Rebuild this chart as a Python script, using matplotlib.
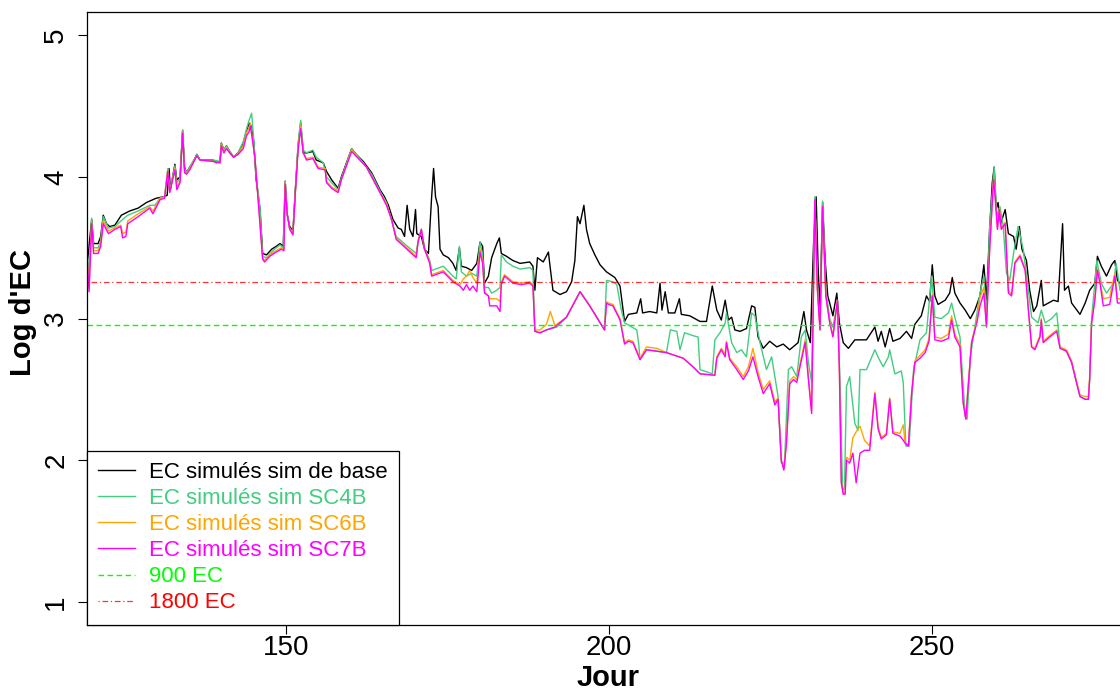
"""
EC simulées (log) par jour pour quatre scénarios, avec seuils 900 et 1800 EC.
"""
import matplotlib
matplotlib.use("Agg")
import matplotlib.pyplot as plt

plt.rcParams["font.family"] = ["Liberation Sans", "DejaVu Sans"]

# --- données (jour, log EC) ---
base_days = [
    119.0, 119.2, 119.8, 120.1, 120.8, 121.2, 121.6, 122.1, 122.6, 123.4, 124.4, 125.7,
    127.0, 128.3, 129.8, 130.9, 131.5, 131.8, 132.0, 132.7, 133.0, 133.5, 133.9, 134.2,
    134.5, 135.0, 135.5, 136.1, 136.6, 138.6, 139.1, 139.7, 139.9, 140.3, 140.7, 141.2,
    141.8, 142.5, 143.3, 143.8, 144.2, 144.5, 144.9, 145.3, 145.9, 146.3, 146.9, 147.7,
    148.4, 149.0, 149.5, 149.8, 150.1, 150.5, 151.0, 151.4, 151.8, 152.2, 152.6, 153.1,
    154.1, 154.6, 155.7, 156.2, 157.0, 158.0, 158.5, 160.1, 160.8, 161.9, 163.2, 164.5,
    165.2, 165.8, 166.5, 167.3, 167.8, 168.3, 168.7, 169.1, 169.6, 170.0, 170.2, 170.9,
    171.4, 172.0, 172.5, 172.8, 173.1, 173.5, 173.8, 174.3, 175.1, 175.8, 176.3, 176.8,
    177.1, 177.9, 178.7, 179.5, 180.0, 180.4, 180.7, 181.3, 181.8, 182.6, 183.0, 183.3,
    184.1, 185.1, 186.2, 187.7, 188.2, 188.5, 188.9, 189.8, 190.6, 190.8, 191.3, 192.4,
    193.4, 194.2, 194.7, 195.1, 195.5, 196.1, 196.5, 197.0, 197.8, 198.6, 199.6, 200.9,
    201.7, 202.4, 203.0, 204.3, 204.9, 205.2, 206.3, 207.4, 207.9, 208.2, 208.7, 209.2,
    210.2, 210.9, 211.2, 212.5, 214.1, 215.1, 216.0, 216.7, 217.4, 218.0, 218.5, 219.0,
    219.5, 220.3, 221.3, 222.1, 222.6, 223.1, 223.9, 224.9, 226.0, 227.0, 228.0, 229.3,
    230.2, 230.6, 231.2, 231.7, 232.1, 232.4, 232.7, 233.1, 233.5, 233.9, 234.2, 234.7,
    235.3, 235.7, 236.3, 237.1, 238.1, 239.9, 241.2, 241.7, 242.2, 242.8, 243.5, 244.0,
    245.1, 246.1, 246.9, 247.4, 248.4, 249.2, 249.7, 250.1, 250.5, 251.0, 252.1, 252.8,
    253.2, 253.6, 254.4, 255.2, 256.0, 256.7, 257.5, 258.1, 258.5, 259.0, 259.4, 259.7,
    260.0, 260.3, 260.7, 261.4, 261.9, 262.7, 263.1, 263.6, 264.0, 264.7, 265.2, 265.8,
    266.3, 267.0, 267.3, 268.1, 268.9, 269.6, 270.3, 270.6, 271.2, 271.7, 272.5, 273.0,
    273.8, 274.5, 275.3, 275.7, 276.3, 277.1, 277.9, 278.4, 278.8, 279.2,
]
base_ec = [
    3.56, 3.42, 3.70, 3.53, 3.53, 3.58, 3.73, 3.67, 3.65, 3.66, 3.73, 3.76,
    3.78, 3.82, 3.85, 3.86, 3.87, 4.06, 3.91, 4.09, 3.98, 4.00, 4.33, 4.07,
    4.03, 4.07, 4.10, 4.16, 4.12, 4.12, 4.10, 4.11, 4.24, 4.19, 4.22, 4.18,
    4.14, 4.17, 4.24, 4.32, 4.38, 4.36, 4.26, 3.98, 3.77, 3.46, 3.45, 3.49,
    3.51, 3.53, 3.51, 3.97, 3.74, 3.65, 3.62, 3.93, 4.22, 4.38, 4.17, 4.17,
    4.18, 4.12, 4.10, 4.04, 3.98, 3.92, 4.00, 4.20, 4.16, 4.11, 4.03, 3.91,
    3.86, 3.80, 3.70, 3.64, 3.63, 3.58, 3.80, 3.63, 3.58, 3.77, 3.60, 3.58,
    3.49, 3.46, 3.86, 4.06, 3.86, 3.79, 3.49, 3.45, 3.43, 3.39, 3.34, 3.50,
    3.37, 3.36, 3.34, 3.39, 3.54, 3.51, 3.25, 3.30, 3.43, 3.53, 3.57, 3.46,
    3.44, 3.41, 3.39, 3.40, 3.37, 3.20, 3.43, 3.40, 3.47, 3.39, 3.20, 3.17,
    3.19, 3.26, 3.41, 3.72, 3.67, 3.80, 3.63, 3.53, 3.45, 3.38, 3.33, 3.29,
    3.23, 2.98, 3.03, 3.04, 3.14, 3.04, 3.05, 3.04, 3.25, 3.06, 3.19, 3.04,
    3.04, 3.14, 3.03, 3.02, 2.98, 2.98, 3.23, 3.06, 2.99, 3.13, 2.99, 3.01,
    2.92, 2.91, 2.93, 3.09, 3.08, 2.87, 2.79, 2.84, 2.80, 2.82, 2.78, 2.83,
    3.05, 2.92, 2.83, 3.53, 3.86, 3.37, 3.06, 3.82, 3.41, 3.16, 3.11, 3.02,
    3.18, 2.97, 2.83, 2.79, 2.85, 2.85, 2.94, 2.84, 2.91, 2.80, 2.93, 2.84,
    2.86, 2.91, 2.86, 2.96, 3.02, 3.16, 3.12, 3.38, 3.16, 3.10, 3.13, 3.18,
    3.29, 3.18, 3.11, 3.06, 3.00, 3.06, 3.16, 3.38, 3.13, 3.64, 3.96, 4.07,
    3.77, 3.82, 3.67, 3.77, 3.60, 3.58, 3.49, 3.65, 3.49, 3.41, 3.20, 3.05,
    3.09, 3.27, 3.09, 3.11, 3.13, 3.12, 3.67, 3.20, 3.23, 3.11, 3.06, 3.03,
    3.11, 3.20, 3.25, 3.44, 3.37, 3.30, 3.38, 3.41, 3.27, 3.25,
]

sc4b_days = [
    119.0, 119.4, 119.8, 120.1, 120.8, 121.2, 121.6, 122.4, 123.4, 124.6, 125.4, 127.0,
    128.8, 129.6, 130.4, 131.1, 131.6, 131.9, 132.7, 133.0, 133.5, 133.9, 134.2, 134.5,
    135.0, 136.1, 136.6, 138.6, 139.7, 139.9, 140.3, 140.7, 141.2, 141.8, 142.5, 143.3,
    143.8, 144.2, 144.6, 144.9, 145.3, 145.9, 146.3, 146.9, 147.7, 148.4, 149.0, 149.5,
    149.8, 150.1, 150.5, 151.0, 151.4, 151.8, 152.2, 152.6, 153.1, 154.1, 154.6, 155.7,
    156.2, 157.0, 158.0, 158.5, 160.1, 160.8, 161.9, 163.2, 164.5, 165.5, 166.3, 167.0,
    168.5, 170.1, 170.4, 170.9, 171.4, 172.2, 172.5, 174.3, 175.8, 176.3, 176.8, 177.1,
    177.9, 178.7, 179.5, 180.0, 180.4, 180.7, 181.3, 181.8, 182.6, 183.1, 183.3, 184.1,
    185.1, 186.2, 187.7, 188.2, 188.5, 189.3, 190.3, 191.9, 193.4, 195.5, 197.0, 199.3,
    199.6, 200.6, 201.2, 201.9, 202.4, 203.2, 204.3, 204.6, 204.8, 205.8, 207.4, 208.9,
    209.5, 210.5, 211.0, 211.7, 213.0, 213.8, 214.1, 216.0, 216.4, 217.2, 218.0, 218.2,
    219.0, 219.8, 220.5, 221.3, 222.1, 222.6, 223.4, 224.4, 225.2, 226.2, 226.7, 227.2,
    227.8, 228.3, 229.1, 229.8, 230.4, 230.9, 231.4, 231.9, 232.3, 232.7, 233.1, 233.6,
    234.2, 234.7, 235.4, 235.8, 236.2, 236.5, 236.8, 237.3, 238.1, 238.6, 238.9, 239.9,
    241.2, 241.9, 242.5, 243.3, 243.5, 244.3, 245.3, 245.6, 246.0, 246.5, 247.2, 248.2,
    249.2, 250.0, 250.5, 251.5, 252.6, 253.1, 253.6, 254.4, 255.2, 255.5, 256.0, 256.7,
    257.5, 258.1, 258.5, 259.0, 259.7, 260.1, 260.6, 261.1, 261.6, 262.1, 262.7, 263.4,
    264.2, 265.0, 265.5, 266.5, 267.0, 267.6, 268.6, 269.4, 269.9, 270.9, 271.7, 272.5,
    273.0, 273.8, 274.3, 274.5, 274.8, 275.6, 276.3, 277.1, 278.2, 278.6, 279.2,
]
sc4b_ec = [
    3.52, 3.32, 3.71, 3.50, 3.50, 3.55, 3.72, 3.64, 3.65, 3.70, 3.73, 3.76,
    3.80, 3.80, 3.85, 3.86, 4.06, 3.90, 4.08, 3.96, 3.99, 4.33, 4.06, 4.03,
    4.07, 4.16, 4.12, 4.12, 4.11, 4.24, 4.19, 4.22, 4.18, 4.14, 4.17, 4.25,
    4.34, 4.40, 4.45, 4.28, 4.00, 3.78, 3.44, 3.43, 3.47, 3.50, 3.52, 3.50,
    3.97, 3.74, 3.64, 3.61, 3.93, 4.24, 4.40, 4.19, 4.17, 4.19, 4.14, 4.10,
    4.00, 3.96, 3.91, 3.99, 4.20, 4.16, 4.10, 4.02, 3.90, 3.82, 3.69, 3.58,
    3.52, 3.46, 3.55, 3.63, 3.50, 3.41, 3.34, 3.37, 3.30, 3.28, 3.51, 3.33,
    3.30, 3.32, 3.30, 3.54, 3.45, 3.22, 3.22, 3.18, 3.20, 3.22, 3.45, 3.40,
    3.37, 3.35, 3.36, 3.34, 2.91, 2.90, 2.92, 2.94, 3.01, 3.19, 3.09, 2.92,
    3.27, 3.26, 3.24, 3.06, 2.97, 2.95, 2.92, 2.82, 2.71, 2.78, 2.77, 2.76,
    2.92, 2.91, 2.78, 2.90, 2.88, 2.87, 2.64, 2.61, 2.85, 2.90, 2.97, 3.04,
    2.83, 2.76, 2.78, 2.73, 3.04, 3.02, 2.83, 2.64, 2.73, 2.45, 1.98, 1.98,
    2.64, 2.66, 2.59, 2.87, 2.92, 2.69, 2.55, 3.86, 3.22, 2.95, 3.83, 3.20,
    3.00, 2.94, 3.11, 2.55, 1.79, 1.80, 2.52, 2.59, 2.26, 2.21, 2.64, 2.64,
    2.78, 2.71, 2.66, 2.73, 2.78, 2.61, 2.63, 2.55, 2.10, 2.10, 2.64, 2.85,
    2.90, 3.30, 3.01, 3.00, 3.04, 3.11, 3.01, 2.87, 2.31, 2.29, 2.73, 2.94,
    3.18, 3.30, 3.01, 3.65, 4.07, 3.72, 3.79, 3.65, 3.32, 3.27, 3.46, 3.65,
    3.49, 3.20, 3.01, 2.97, 3.06, 2.97, 3.00, 3.04, 2.80, 2.77, 2.69, 2.54,
    2.45, 2.43, 2.43, 2.57, 3.00, 3.41, 3.25, 3.18, 3.25, 3.39, 3.20,
]

# SC6B et SC7B partagent les mêmes jours de lecture
sc67_days = [
    119.0, 119.4, 119.8, 120.1, 120.8, 121.2, 121.6, 122.4, 123.4, 124.3, 124.6, 125.1,
    125.4, 127.0, 128.8, 129.3, 130.4, 131.1, 131.6, 131.9, 132.7, 133.0, 133.5, 133.9,
    134.2, 134.5, 135.0, 136.1, 136.6, 138.6, 139.7, 139.9, 140.3, 140.7, 141.2, 141.8,
    142.5, 143.3, 143.8, 144.2, 144.4, 144.7, 145.1, 145.6, 146.3, 146.6, 147.4, 148.4,
    149.2, 149.6, 149.8, 150.1, 150.5, 151.0, 151.4, 151.8, 152.2, 152.6, 153.1, 154.1,
    154.9, 156.0, 156.2, 157.0, 158.0, 158.5, 160.1, 162.4, 164.5, 165.5, 166.3, 167.0,
    170.1, 170.4, 170.9, 171.4, 172.2, 172.5, 174.3, 175.8, 176.9, 177.4, 177.9, 178.4,
    178.9, 179.5, 180.0, 180.4, 180.7, 181.3, 181.5, 182.6, 183.1, 183.3, 183.8, 185.1,
    186.4, 187.7, 188.2, 188.5, 189.3, 190.3, 190.9, 191.6, 193.4, 195.5, 197.0, 199.3,
    199.6, 199.9, 200.6, 201.7, 202.4, 203.0, 203.7, 204.8, 205.8, 207.4, 208.9, 211.5,
    213.0, 214.1, 216.4, 216.7, 217.4, 218.0, 218.2, 218.7, 219.8, 220.8, 221.6, 222.3,
    223.1, 223.9, 224.9, 225.7, 226.2, 226.7, 227.1, 227.5, 228.0, 228.6, 229.1, 229.6,
    230.4, 230.9, 231.4, 231.9, 232.3, 232.7, 233.1, 233.6, 234.2, 234.7, 235.4, 235.7,
    236.0, 236.3, 236.6, 236.8, 237.3, 237.8, 238.3, 238.9, 239.6, 240.4, 241.2, 241.7,
    242.2, 243.0, 243.5, 244.0, 245.1, 245.6, 245.9, 246.4, 246.9, 247.4, 248.2, 249.0,
    249.6, 250.1, 250.5, 251.5, 252.6, 253.1, 253.6, 254.4, 254.9, 255.3, 255.7, 256.2,
    257.0, 257.5, 258.1, 258.5, 259.0, 259.6, 259.8, 260.2, 260.5, 260.8, 261.4, 261.9,
    262.4, 262.9, 263.7, 264.5, 265.0, 265.5, 266.0, 266.8, 267.0, 267.3, 268.3, 269.4,
    269.9, 270.9, 271.7, 272.5, 273.0, 273.8, 274.3, 274.5, 274.8, 275.3, 275.7, 276.1,
    276.6, 277.6, 278.4, 278.8, 279.2,
]
sc6b_ec = [
    3.50, 3.22, 3.68, 3.48, 3.48, 3.53, 3.69, 3.62, 3.64, 3.66, 3.60, 3.61,
    3.69, 3.74, 3.79, 3.76, 3.85, 3.86, 4.05, 3.90, 4.06, 3.93, 3.97, 4.32,
    4.04, 4.02, 4.06, 4.15, 4.12, 4.11, 4.10, 4.23, 4.18, 4.21, 4.17, 4.14,
    4.16, 4.22, 4.31, 4.35, 4.38, 4.27, 4.14, 3.85, 3.43, 3.41, 3.45, 3.48,
    3.50, 3.49, 3.96, 3.74, 3.63, 3.60, 3.92, 4.21, 4.36, 4.17, 4.13, 4.14,
    4.07, 4.06, 3.97, 3.93, 3.90, 3.98, 4.19, 4.07, 3.89, 3.81, 3.70, 3.57,
    3.44, 3.55, 3.63, 3.49, 3.40, 3.31, 3.34, 3.27, 3.24, 3.28, 3.30, 3.34,
    3.29, 3.25, 3.49, 3.41, 3.19, 3.16, 3.14, 3.14, 3.12, 3.26, 3.31, 3.26,
    3.25, 3.26, 3.24, 2.92, 2.92, 2.96, 3.05, 2.95, 3.01, 3.19, 3.09, 2.92,
    3.12, 3.11, 3.10, 3.00, 2.83, 2.85, 2.84, 2.72, 2.80, 2.79, 2.76, 2.72,
    2.66, 2.61, 2.60, 2.73, 2.79, 2.75, 2.84, 2.72, 2.66, 2.59, 2.66, 2.79,
    2.62, 2.50, 2.56, 2.41, 2.44, 2.00, 1.94, 2.14, 2.56, 2.59, 2.57, 2.68,
    2.85, 2.59, 2.35, 3.84, 3.20, 2.92, 3.79, 3.16, 2.98, 2.88, 3.13, 2.64,
    1.85, 1.77, 1.77, 2.02, 2.00, 2.16, 2.20, 2.24, 2.14, 2.10, 2.48, 2.24,
    2.16, 2.19, 2.44, 2.20, 2.19, 2.25, 2.12, 2.11, 2.48, 2.70, 2.74, 2.78,
    2.86, 3.17, 2.87, 2.86, 2.89, 3.02, 2.89, 2.82, 2.41, 2.30, 2.55, 2.84,
    2.98, 3.15, 3.22, 2.95, 3.50, 3.99, 3.90, 3.64, 3.78, 3.64, 3.68, 3.20,
    3.17, 3.40, 3.45, 3.35, 3.07, 2.80, 2.79, 2.88, 3.00, 2.84, 2.88, 2.92,
    2.80, 2.78, 2.70, 2.55, 2.46, 2.45, 2.45, 2.59, 2.98, 3.14, 3.35, 3.26,
    3.14, 3.15, 3.32, 3.14, 3.14,
]
sc7b_ec = [
    3.49, 3.19, 3.67, 3.46, 3.46, 3.51, 3.67, 3.60, 3.63, 3.65, 3.57, 3.58,
    3.67, 3.72, 3.78, 3.74, 3.84, 3.85, 4.04, 3.89, 4.05, 3.91, 3.96, 4.31,
    4.03, 4.02, 4.05, 4.15, 4.12, 4.11, 4.10, 4.22, 4.17, 4.20, 4.17, 4.14,
    4.16, 4.20, 4.29, 4.32, 4.36, 4.27, 4.14, 3.84, 3.42, 3.40, 3.44, 3.47,
    3.49, 3.48, 3.95, 3.74, 3.63, 3.59, 3.91, 4.19, 4.34, 4.17, 4.12, 4.13,
    4.06, 4.05, 3.96, 3.92, 3.89, 3.98, 4.18, 4.07, 3.89, 3.80, 3.70, 3.56,
    3.43, 3.54, 3.63, 3.49, 3.39, 3.30, 3.33, 3.26, 3.23, 3.20, 3.24, 3.20,
    3.23, 3.19, 3.47, 3.39, 3.18, 3.16, 3.09, 3.09, 3.05, 3.24, 3.30, 3.25,
    3.24, 3.25, 3.23, 2.91, 2.90, 2.92, 2.93, 2.94, 3.01, 3.19, 3.09, 2.92,
    3.11, 3.10, 3.09, 2.99, 2.82, 2.84, 2.83, 2.71, 2.78, 2.77, 2.76, 2.72,
    2.66, 2.61, 2.60, 2.72, 2.78, 2.73, 2.83, 2.71, 2.64, 2.57, 2.63, 2.73,
    2.59, 2.47, 2.54, 2.39, 2.43, 2.00, 1.93, 2.12, 2.54, 2.57, 2.55, 2.66,
    2.83, 2.57, 2.33, 3.84, 3.20, 2.92, 3.79, 3.16, 2.97, 2.87, 3.13, 2.64,
    1.84, 1.76, 1.76, 2.00, 1.98, 2.05, 1.84, 2.05, 2.07, 2.07, 2.47, 2.22,
    2.15, 2.18, 2.43, 2.19, 2.17, 2.14, 2.12, 2.10, 2.47, 2.69, 2.72, 2.76,
    2.84, 3.16, 2.85, 2.84, 2.86, 2.99, 2.87, 2.80, 2.40, 2.29, 2.54, 2.83,
    2.97, 3.09, 3.18, 2.94, 3.49, 3.98, 3.89, 3.63, 3.77, 3.63, 3.67, 3.18,
    3.16, 3.39, 3.44, 3.34, 3.06, 2.80, 2.78, 2.87, 2.99, 2.83, 2.87, 2.91,
    2.79, 2.77, 2.69, 2.54, 2.45, 2.43, 2.43, 2.57, 2.97, 3.13, 3.34, 3.25,
    3.09, 3.10, 3.30, 3.11, 3.11,
]

ec_900 = 2.954   # log10(900)
ec_1800 = 3.255  # log10(1800)

series_labels = [
    "EC simulés sim de base",
    "EC simulés sim SC4B",
    "EC simulés sim SC6B",
    "EC simulés sim SC7B",
    "900 EC",
    "1800 EC",
]
x_ticks = [150, 200, 250]
y_ticks = [1, 2, 3, 4, 5]


def make_plot():
    fig = plt.figure(figsize=(11.2, 6.9), dpi=100)
    ax = fig.add_axes([86.5 / 1120, 65.5 / 690, 1 - 86.5 / 1120, 612.5 / 690])

    c_base, c_4b, c_6b, c_7b = "black", "#43CD80", "#FFA500", "#FF00FF"
    c_900, c_1800 = "#00FF00", "#FF0000"

    ax.plot(base_days, base_ec, color=c_base, lw=1.0, label=series_labels[0])
    ax.plot(sc4b_days, sc4b_ec, color=c_4b, lw=1.0, label=series_labels[1])
    ax.plot(sc67_days, sc6b_ec, color=c_6b, lw=1.0, label=series_labels[2])
    ax.plot(sc67_days, sc7b_ec, color=c_7b, lw=1.0, label=series_labels[3])
    ax.axhline(ec_900, color=c_900, lw=1.0, dashes=(4, 2.5), label=series_labels[4])
    ax.axhline(ec_1800, color=c_1800, lw=0.9, dashes=(1, 2.2, 4.5, 2.2),
               alpha=0.8, label=series_labels[5])

    ax.set_xlim(119.0, 279.2)
    ax.set_ylim(0.84, 5.165)
    ax.set_xticks(x_ticks)
    ax.set_yticks(y_ticks)
    ax.spines["right"].set_visible(False)
    for s in ("left", "top", "bottom"):
        ax.spines[s].set_linewidth(0.9)
    ax.tick_params(direction="out", length=6.5, width=0.8, labelsize=20)
    ax.tick_params(axis="x", pad=1)
    ax.tick_params(axis="y", pad=6)
    for lab in ax.get_yticklabels():
        lab.set_rotation(90)
        lab.set_va("center")

    fig.text(608 / 1120, 1 - 678 / 690, "Jour", ha="center", va="center",
             fontsize=21, fontweight="bold")
    fig.text(23 / 1120, 1 - 313 / 690, "Log d'EC", ha="center", va="center",
             rotation=90, fontsize=21, fontweight="bold")

    leg = ax.legend(loc="lower left", bbox_to_anchor=(0, 0), borderaxespad=0,
                    fontsize=16, frameon=True, fancybox=False, framealpha=1,
                    edgecolor="black", handlelength=1.7, handletextpad=0.63,
                    labelspacing=0.23, borderpad=0.5,
                    labelcolor=[c_base, c_4b, c_6b, c_7b, c_900, c_1800])
    leg.get_frame().set_linewidth(0.9)
    return fig


if __name__ == "__main__":
    fig = make_plot()
    fig.savefig("out.png", dpi=100)
